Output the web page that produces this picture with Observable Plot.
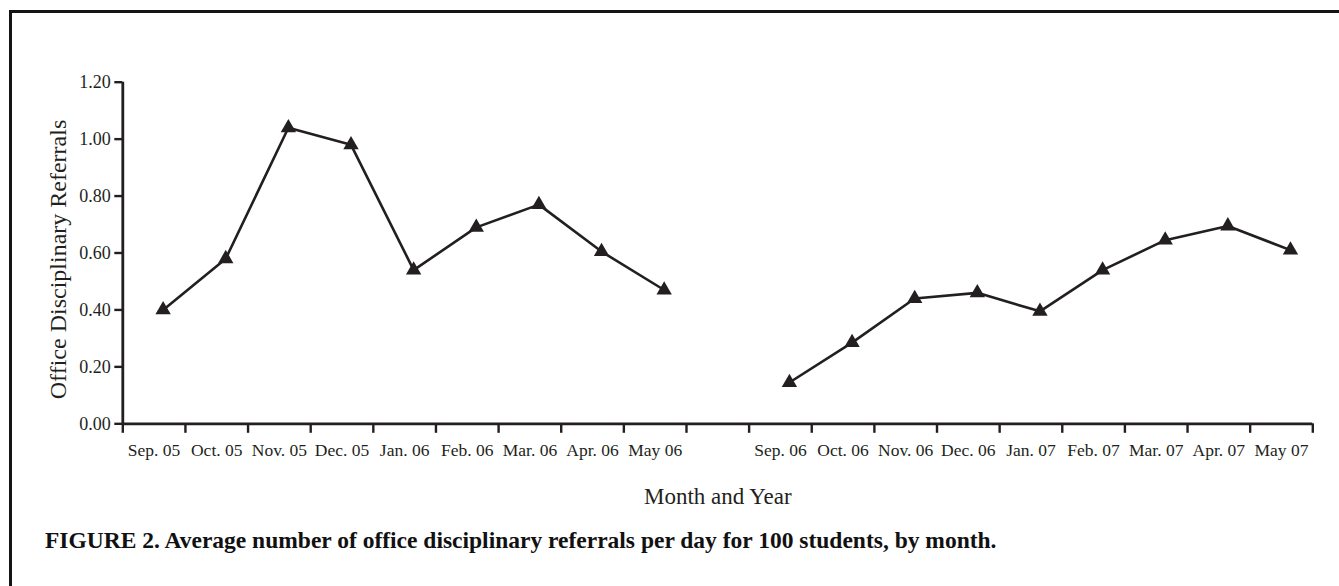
<!DOCTYPE html>
<html><head><meta charset="utf-8">
<script src="https://cdn.jsdelivr.net/npm/d3@7"></script>
<script src="https://cdn.jsdelivr.net/npm/@observablehq/plot@0.6"></script>
<style>
html,body{margin:0;padding:0;background:#fff;overflow:hidden;width:1339px;height:586px;}
#frame{position:absolute;left:8.5px;top:10px;width:2000px;height:2000px;border-left:3px solid #141414;border-top:3px solid #141414;}
#chart{position:absolute;left:0;top:0;}
#caption{position:absolute;left:45px;top:526px;font-family:"Liberation Serif",serif;font-weight:bold;font-size:23.5px;line-height:28px;color:#111;white-space:nowrap;}
</style></head><body>
<div id="frame"></div>
<div id="chart"></div>
<div id="caption"></div>
<script>
const monthLabels = ["Sep. 05","Oct. 05","Nov. 05","Dec. 05","Jan. 06","Feb. 06","Mar. 06","Apr. 06","May 06","",
                     "Sep. 06","Oct. 06","Nov. 06","Dec. 06","Jan. 07","Feb. 07","Mar. 07","Apr. 07","May 07"];
const year1Values = [0.40, 0.58, 1.04, 0.98, 0.54, 0.69, 0.77, 0.605, 0.47];
const year2Values = [0.145, 0.285, 0.44, 0.46, 0.395, 0.54, 0.645, 0.695, 0.61];
const yTicks = [0, 0.2, 0.4, 0.6, 0.8, 1.0, 1.2];
const yTitle = "Office Disciplinary Referrals";
const xTitle = "Month and Year";
const captionText = "FIGURE 2. Average number of office disciplinary referrals per day for 100 students, by month.";

const year2Start = monthLabels.indexOf("") + 1;
const rows = [];
year1Values.forEach((v, i) => rows.push({slot: i + 0.5, value: v, period: "2005-06", label: monthLabels[i]}));
year2Values.forEach((v, i) => rows.push({slot: year2Start + i + 0.5, value: v, period: "2006-07", label: monthLabels[year2Start + i]}));
const labelTicks = monthLabels.map((l, i) => l ? i + 0.5 : null).filter(d => d !== null);

const ink = "#231f20";
const chart = Plot.plot({
  width: 1339, height: 515,
  marginLeft: 122.3, marginRight: 26.7, marginTop: 81.7, marginBottom: 91.7,
  style: {fontFamily: '"Liberation Serif", serif', color: ink, background: "transparent"},
  x: {type: "linear", domain: [0, monthLabels.length], axis: null},
  y: {domain: [0, 1.2], axis: null},
  marks: [
    Plot.axisY({ticks: yTicks, tickFormat: d3.format(".2f"), tickSize: 8, tickPadding: 4, fontSize: 18, strokeWidth: 2.4, label: null}),
    Plot.axisX({ticks: d3.range(monthLabels.length + 1), tickFormat: () => "", tickSize: 9.5, strokeWidth: 2.4, label: null}),
    Plot.axisX({ticks: labelTicks, tickFormat: d => monthLabels[Math.floor(d)], tickSize: 0, tickPadding: 19.3, fontSize: 17.5, label: null}),
    Plot.ruleX([0], {stroke: ink, strokeWidth: 2.8}),
    Plot.ruleY([0], {stroke: ink, strokeWidth: 2.8}),
    Plot.lineY(rows, {x: "slot", y: "value", z: "period", stroke: ink, strokeWidth: 2.6, dx: 9}),
    Plot.dot(rows, {x: "slot", y: "value", symbol: "triangle", r: 5.7, fill: ink, stroke: "none", dx: 9}),
    Plot.text([yTitle], {text: d => d, frameAnchor: "left", rotate: -90, dx: -64.5, dy: 6.5, fontSize: 24, textAnchor: "middle", lineAnchor: "middle", fill: ink}),
    Plot.text([xTitle], {text: d => d, frameAnchor: "bottom", dy: 72.7, fontSize: 23, lineAnchor: "middle", fill: ink})
  ]
});
document.getElementById("chart").appendChild(chart);
document.getElementById("caption").textContent = captionText;
</script>
</body></html>
